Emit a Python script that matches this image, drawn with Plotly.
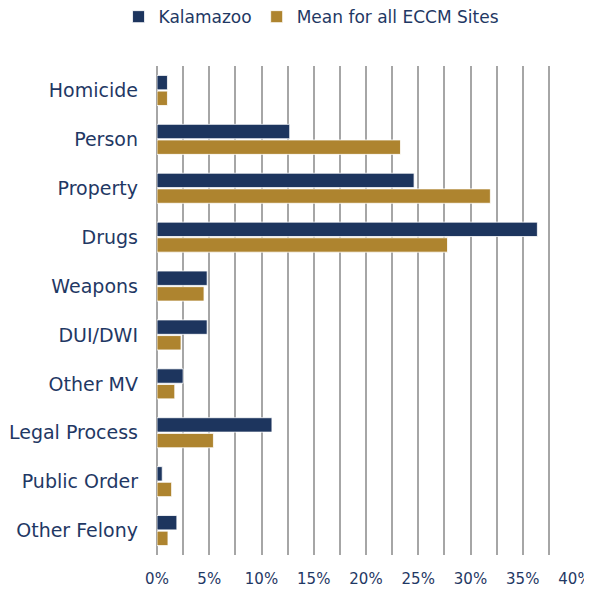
import plotly.graph_objects as go

categories = ["Homicide", "Person", "Property", "Drugs", "Weapons", "DUI/DWI",
              "Other MV", "Legal Process", "Public Order", "Other Felony"]
kalamazoo = [0.010, 0.127, 0.246, 0.364, 0.048, 0.048, 0.025, 0.110, 0.005, 0.019]
mean_all = [0.010, 0.233, 0.319, 0.278, 0.045, 0.023, 0.017, 0.054, 0.014, 0.0105]

navy = "#1D355E"
gold = "#AE842F"
text_col = "#1F3864"
font_family = "DejaVu Sans, Verdana, sans-serif"

fig = go.Figure()
fig.add_trace(go.Bar(y=categories, x=kalamazoo, name="Kalamazoo", orientation="h",
                     marker=dict(color=navy, line=dict(color="white", width=0.8))))
fig.add_trace(go.Bar(y=categories, x=mean_all, name="Mean for all ECCM Sites", orientation="h",
                     marker=dict(color=gold, line=dict(color="white", width=0.8))))

fig.update_layout(
    width=592, height=590,
    margin=dict(l=149, r=25, t=58, b=43, autoexpand=False),
    paper_bgcolor="white", plot_bgcolor="white",
    barmode="group", bargap=0.36, bargroupgap=0.08,
    font=dict(family=font_family, color=text_col, size=16),
    legend=dict(orientation="h", x=-0.092, xanchor="left", y=1.10, yanchor="middle",
                font=dict(size=17, color=text_col),
                itemwidth=30, traceorder="normal"),
    showlegend=True,
)
fig.update_xaxes(range=[0, 0.40], dtick=0.05, tickformat=".0%",
                 showgrid=True, gridcolor="#A6A6A6", gridwidth=1.5,
                 minor=dict(dtick=0.025, showgrid=True, gridcolor="#A6A6A6", gridwidth=1.5),
                 zeroline=True, zerolinecolor="#A6A6A6", zerolinewidth=1.5,
                 tickfont=dict(size=15, color=text_col), ticks="", showline=False,
                 automargin=False, ticklabelstandoff=13)
fig.update_yaxes(autorange="reversed", ticks="", showgrid=False, automargin=False,
                 tickfont=dict(size=19, color=text_col), ticklabelstandoff=18)

fig.write_html("out.html")
